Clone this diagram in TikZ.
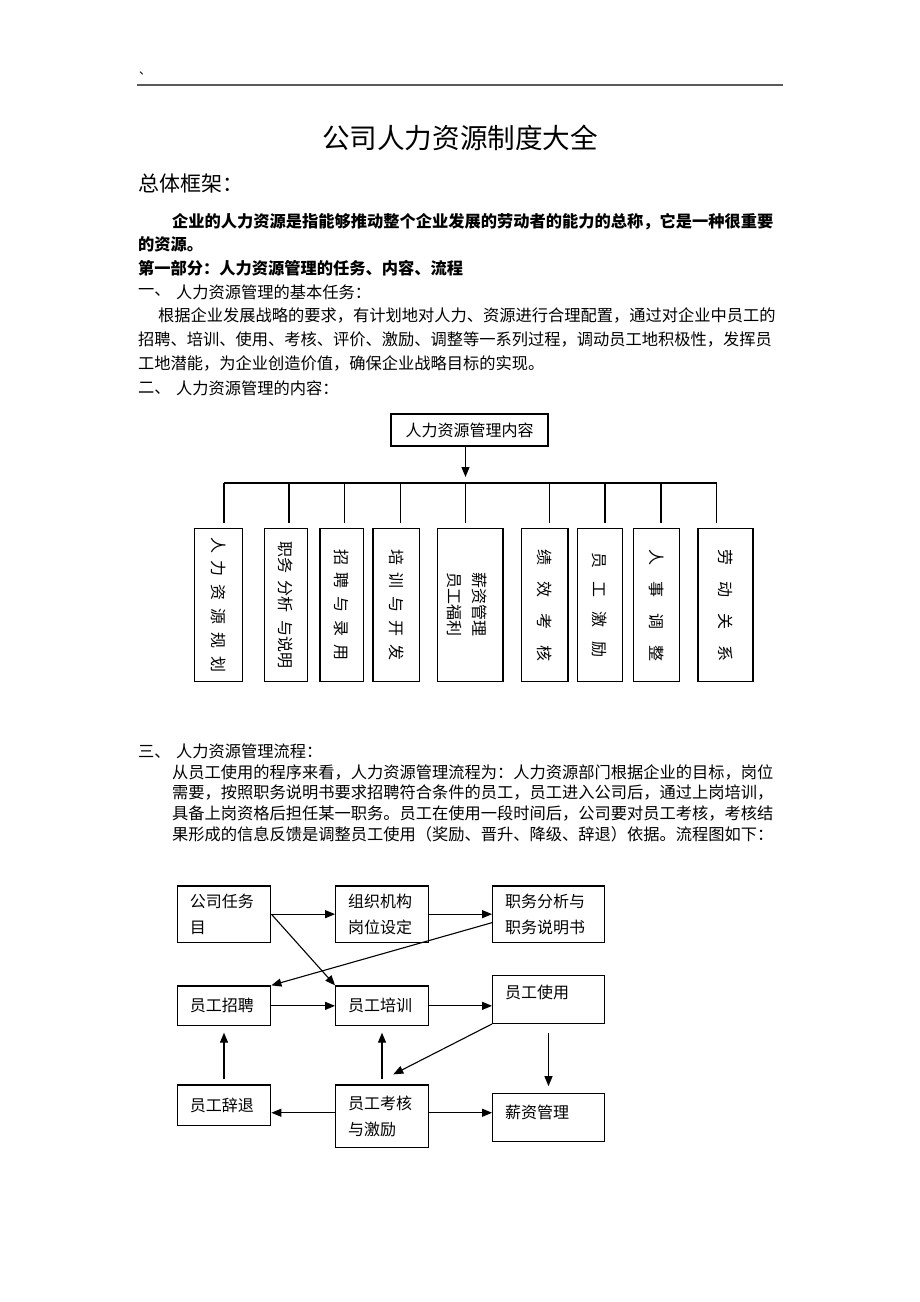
\documentclass[tikz,border=0pt]{standalone}
\usepackage{fontspec}
\usepackage{graphicx}
\setmainfont{Noto Sans CJK SC}
\usetikzlibrary{arrows.meta}
\definecolor{rulegray}{HTML}{5A5A5A}
\tikzset{
  txt/.style={anchor=west, inner sep=0pt, font=\fontsize{16.25}{20}\selectfont},
  txtb/.style={anchor=west, inner sep=0pt, font=\fontsize{16.25}{20}\selectfont\bfseries},
  tl/.style={line width=1.2pt},
  arr/.style={line width=1.1pt, -{Triangle[length=10pt,width=8pt]}},
  tbox/.style={draw, line width=1.2pt, inner sep=0pt, font=\fontsize{16}{25}\selectfont},
  fbox/.style={draw, line width=1.3pt, inner xsep=12.5pt, inner ysep=0pt, align=left,
               font=\fontsize{16}{26}\selectfont},
}
\newcommand{\vt}[1]{\rotatebox{-90}{#1}}
\begin{document}
\begin{tikzpicture}[x=1pt,y=-1pt]
\useasboundingbox (0,0) rectangle (920,1302);
\fill[white] (0,0) rectangle (920,1302);

% header
\node[anchor=west, inner sep=0pt, font=\fontsize{12}{14}\selectfont] (mark) at (139,73) {、};
\draw[line width=2pt, rulegray] (137,85) -- (783,85);
\node[inner sep=0pt, font=\fontsize{27.6}{30}\selectfont] (title) at (460,138) {公司人力资源制度大全};
\node[anchor=west, inner sep=0pt, font=\fontsize{21}{24}\selectfont] (frame) at (138,184) {总体框架：};

\node[txtb] (p1a) at (172,221.5) {企业的人力资源是指能够推动整个企业发展的劳动者的能力的总称，它是一种很重要};
\node[txtb] (p1b) at (138,244) {的资源。};
\node[txtb] (h1) at (138,268) {第一部分：人力资源管理的任务、内容、流程};
\node[txt] (s1n) at (138,292) {一、};
\node[txt] (s1t) at (176,292) {人力资源管理的基本任务：};
\node[txt] (p2a) at (158,315.5) {根据企业发展战略的要求，有计划地对人力、资源进行合理配置，通过对企业中员工的};
\node[txt] (p2b) at (138,339.5) {招聘、培训、使用、考核、评价、激励、调整等一系列过程，调动员工地积极性，发挥员};
\node[txt] (p2c) at (138,363.5) {工地潜能，为企业创造价值，确保企业战略目标的实现。};
\node[txt] (s2n) at (138,388) {二、};
\node[txt] (s2t) at (176,388) {人力资源管理的内容：};

% tree
\node[tbox, minimum width=157pt, minimum height=32pt] (tt) at (469.5,430) {人力资源管理内容};
\coordinate (hub) at (465.5,483);
\coordinate (d1) at (224,522.5);
\coordinate (d2) at (289,522.5);
\coordinate (d3) at (344.5,522.5);
\coordinate (d4) at (400.5,522.5);
\coordinate (d5) at (465.5,522.5);
\coordinate (d6) at (549.5,522.5);
\coordinate (d7) at (605,522.5);
\coordinate (d8) at (661,522.5);
\coordinate (d9) at (716.5,522.5);
\draw[arr] (tt.south -| hub) -- ([yshift=6pt]hub);
\draw[tl] (d1 |- hub) -- (d9 |- hub);
\foreach \i in {1,...,9} \draw[tl] (d\i |- hub) -- (d\i);

\node[tbox, minimum width=48.4pt, minimum height=153.4pt] (k1) at (218.5,605) {\vt{人\hspace{8pt}力\hspace{8pt}资\hspace{8pt}源\hspace{8pt}规\hspace{8pt}划}};
\node[tbox, minimum width=43.3pt, minimum height=153.4pt] (k2) at (285.9,605) {\vt{职务\hspace{8pt}分析\hspace{8pt}与说明}};
\node[tbox, minimum width=43.3pt, minimum height=153.4pt] (k3) at (341.7,605) {\vt{招\hspace{8pt}聘\hspace{8pt}与\hspace{8pt}录\hspace{8pt}用}};
\node[tbox, minimum width=46.5pt, minimum height=153.4pt] (k4) at (396.2,605) {\vt{培\hspace{8pt}训\hspace{8pt}与\hspace{8pt}开\hspace{8pt}发}};
\node[tbox, minimum width=65.4pt, minimum height=153.4pt] (k5) at (470.3,605) {\hspace*{-6pt}\vt{\begin{minipage}{66pt}\fontsize{16}{25}\selectfont 薪资管理\\员工福利\end{minipage}}};
\node[tbox, minimum width=46.5pt, minimum height=153.4pt] (k6) at (544.7,605) {\vt{绩\hspace{16pt}效\hspace{16pt}考\hspace{16pt}核}};
\node[tbox, minimum width=45.2pt, minimum height=153.4pt] (k7) at (599.9,605) {\vt{员\hspace{14pt}工\hspace{14pt}激\hspace{14pt}励}};
\node[tbox, minimum width=46pt, minimum height=153.4pt] (k8) at (656.3,605) {\vt{人\hspace{16pt}事\hspace{16pt}调\hspace{16pt}整}};
\node[tbox, minimum width=55pt, minimum height=153.4pt] (k9) at (725.5,605) {\vt{劳\hspace{16pt}动\hspace{16pt}关\hspace{16pt}系}};

% section three
\node[txt] (s3n) at (138,751.5) {三、};
\node[txt] (s3t) at (176,751.5) {人力资源管理流程：};
\node[txt] (p3a) at (172,772) {从员工使用的程序来看，人力资源管理流程为：人力资源部门根据企业的目标，岗位};
\node[txt] (p3b) at (172,792.7) {需要，按照职务说明书要求招聘符合条件的员工，员工进入公司后，通过上岗培训，};
\node[txt] (p3c) at (172,813.3) {具备上岗资格后担任某一职务。员工在使用一段时间后，公司要对员工考核，考核结};
\node[txt] (p3d) at (172,834) {果形成的信息反馈是调整员工使用（奖励、晋升、降级、辞退）依据。流程图如下：};

% flowchart
\node[fbox, minimum width=93.4pt, text width=68.4pt, minimum height=56.3pt] (A) at (224,914.15) {公司任务\\目};
\node[fbox, minimum width=92.6pt, text width=67.6pt, minimum height=56.3pt] (B) at (382,914.15) {组织机构\\岗位设定};
\node[fbox, minimum width=111.6pt, text width=86.6pt, minimum height=56.3pt] (C) at (548.5,914.15) {职务分析与\\职务说明书};
\node[fbox, minimum width=93.4pt, text width=68.4pt, minimum height=39.7pt] (D) at (224,1005.85) {员工招聘};
\node[fbox, minimum width=92.6pt, text width=67.6pt, minimum height=39.7pt] (E) at (382,1005.85) {员工培训};
\node[fbox, minimum width=111.6pt, text width=86.6pt, minimum height=48pt, text depth=15.8pt] (F) at (548.5,999.3) {员工使用};
\node[fbox, minimum width=93.4pt, text width=68.4pt, minimum height=40.3pt] (G) at (224,1105.15) {员工辞退};
\node[fbox, minimum width=92.6pt, text width=67.6pt, minimum height=62.7pt] (H) at (382,1116.35) {员工考核\\与激励};
\node[fbox, minimum width=111.6pt, text width=86.6pt, minimum height=48.4pt, text depth=12.2pt] (I) at (548.5,1117.5) {薪资管理};

\draw[arr] (A.east) -- (B.west);
\draw[arr] (B.east) -- (C.west);
\draw[arr] (A.east) -- (E.north west);
\draw[arr] ([yshift=-8.5pt]C.west) -- (D.north east);
\draw[arr] (D.east) -- (E.west);
\draw[arr] (E.east) -- (E.east -| F.west);
\draw[arr] (F.south west) -- ([xshift=11.3pt,yshift=10pt]H.north);
\draw[arr] ([yshift=-9pt]F.south) -- ([yshift=6.5pt]I.north);
\draw[arr] ([yshift=5pt]H.north) -- ([yshift=-6.3pt]E.south);
\draw[arr] ([yshift=5pt]G.north) -- ([yshift=-6.3pt]D.south);
\draw[arr] ([yshift=3.6pt]H.west) -- ([yshift=3.6pt]H.west -| G.east);
\draw[arr] ([yshift=3.6pt]H.east) -- ([yshift=3.6pt]H.east -| I.west);
\end{tikzpicture}
\end{document}
